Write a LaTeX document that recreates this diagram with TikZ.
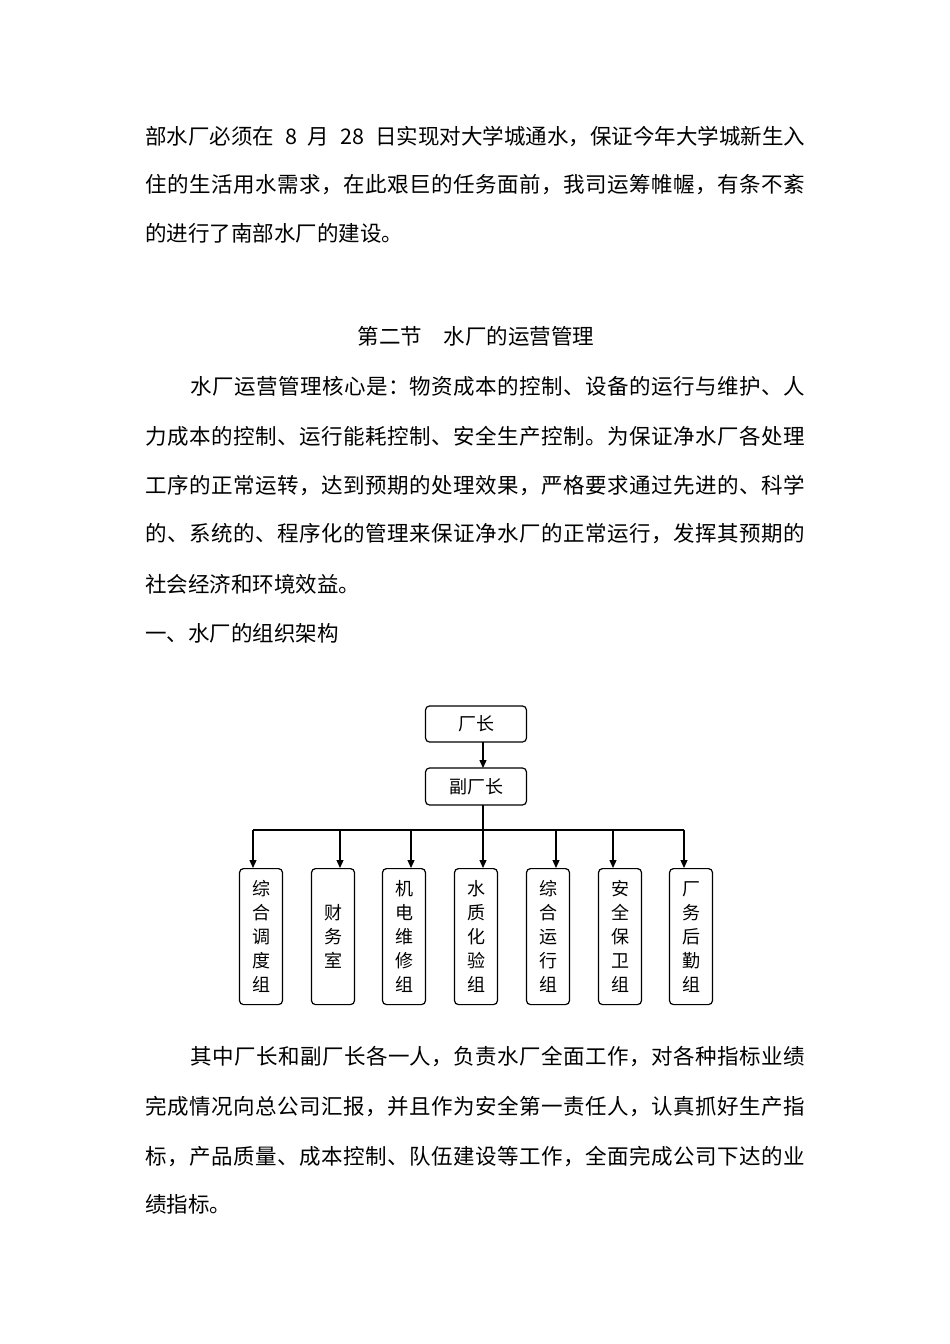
\documentclass[tikz,border=0pt]{standalone}
\usepackage{fontspec}
\setmainfont{Noto Sans CJK SC}
\usetikzlibrary{arrows.meta}
\XeTeXlinebreaklocale "zh"
\XeTeXlinebreakskip=0pt plus 2pt
\def\spa#1{#1\spb}
\def\spb#1{\ifx#1\relax\else\hfil#1\expandafter\spb\fi}
\begin{document}
\begin{tikzpicture}[x=1pt,y=-1pt,
  txt/.style={anchor=west,inner sep=0pt,font=\fontsize{21.5}{22}\selectfont},
  box/.style={draw,line width=1.2pt,rounded corners=4pt,inner sep=0pt,font=\fontsize{18}{20}\selectfont},
  vbox/.style={box,minimum width=43pt,minimum height=136pt,anchor=north,align=center},
  arr/.style={line width=1.2pt,-{Triangle[length=8pt,width=7pt]}}]
\useasboundingbox[fill=white] (0,0) rectangle (950,1344);
\newcommand{\fl}[1]{\makebox[660pt][s]{#1}}
\newcommand{\fs}[1]{\makebox[660pt][s]{\spa#1\relax}}
\newcommand{\fin}[1]{\makebox[615pt][s]{\spa#1\relax}}
\node[txt] (l1) at (145,137) {\fl{部水厂必须在 8 月 28 日实现对大学城通水，保证今年大学城新生入}};
\node[txt] (l2) at (145,185) {\fs{住的生活用水需求，在此艰巨的任务面前，我司运筹帷幄，有条不紊}};
\node[txt] (l3) at (145,233) {的进行了南部水厂的建设。};
\node[txt,anchor=center] (h) at (476,336) {第二节\hspace{1em}水厂的运营管理};
\node[txt] (p1) at (190,386) {\fin{水厂运营管理核心是：物资成本的控制、设备的运行与维护、人}};
\node[txt] (p2) at (145,436) {\fs{力成本的控制、运行能耗控制、安全生产控制。为保证净水厂各处理}};
\node[txt] (p3) at (145,486) {\fs{工序的正常运转，达到预期的处理效果，严格要求通过先进的、科学}};
\node[txt] (p4) at (145,534) {\fs{的、系统的、程序化的管理来保证净水厂的正常运行，发挥其预期的}};
\node[txt] (p5) at (145,584) {社会经济和环境效益。};
\node[txt] (p6) at (145,633) {一、水厂的组织架构};
\node[txt] (q1) at (190,1056) {\fin{其中厂长和副厂长各一人，负责水厂全面工作，对各种指标业绩}};
\node[txt] (q2) at (145,1106) {\fs{完成情况向总公司汇报，并且作为安全第一责任人，认真抓好生产指}};
\node[txt] (q3) at (145,1156) {\fs{标，产品质量、成本控制、队伍建设等工作，全面完成公司下达的业}};
\node[txt] (q4) at (145,1204) {绩指标。};
% chart
\node[box,minimum width=101pt,minimum height=36pt] (a) at (476,724) {厂长};
\node[box,minimum width=101pt,minimum height=37pt] (b) at (476,786.5) {副厂长};
\node[vbox] (c1) at (261,868) {综\\[4pt]合\\[4pt]调\\[4pt]度\\[4pt]组};
\node[vbox] (c2) at (333,868) {财\\[4pt]务\\[4pt]室};
\node[vbox] (c3) at (404,868) {机\\[4pt]电\\[4pt]维\\[4pt]修\\[4pt]组};
\node[vbox] (c4) at (476,868) {水\\[4pt]质\\[4pt]化\\[4pt]验\\[4pt]组};
\node[vbox] (c5) at (548,868) {综\\[4pt]合\\[4pt]运\\[4pt]行\\[4pt]组};
\node[vbox] (c6) at (620,868) {安\\[4pt]全\\[4pt]保\\[4pt]卫\\[4pt]组};
\node[vbox] (c7) at (691,868) {厂\\[4pt]务\\[4pt]后\\[4pt]勤\\[4pt]组};
\draw[arr] (483,742) -- (483,768);
\coordinate (bus) at (483,830);
\draw[line width=1.2pt] (483,805) -- (bus);
\draw[line width=1.2pt] (253,830) -- (684,830);
\foreach \i/\x in {1/253,2/340,3/411,4/483,5/556,6/613,7/684}
  \draw[arr] (\x,830) -- (\x,868);
\end{tikzpicture}
\end{document}
